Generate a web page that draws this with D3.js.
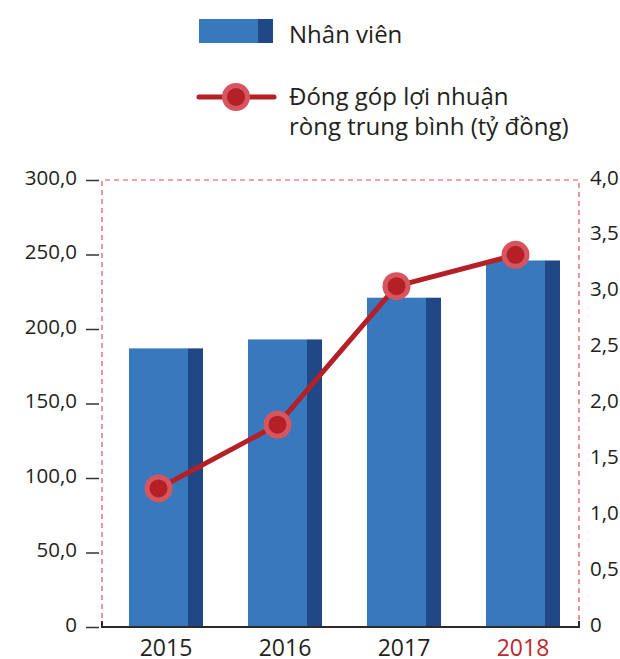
<!DOCTYPE html>
<html><head><meta charset="utf-8">
<script src="https://cdn.jsdelivr.net/npm/d3@7"></script>
<style>
html,body{margin:0;padding:0;background:#fff;}
svg{display:block;font-family:"Open Sans",sans-serif;}
</style></head>
<body><svg id="c" width="620" height="659"></svg>
<script>
const years = ["2015","2016","2017","2018"];
const employees = [187, 193, 221, 246];
const profit = [1.24, 1.81, 3.05, 3.33];
const leftTicks = [0, 50, 100, 150, 200, 250, 300];
const leftTickLabels = ["0","50,0","100,0","150,0","200,0","250,0","300,0"];
const rightTicks = [0, 0.5, 1, 1.5, 2, 2.5, 3, 3.5, 4];
const rightTickLabels = ["0","0,5","1,0","1,5","2,0","2,5","3,0","3,5","4,0"];
const legendBar = "Nhân viên";
const legendLine = ["Đóng góp lợi nhuận", "ròng trung bình (tỷ đồng)"];

const svg = d3.select("#c");
const textColor = "#231f20";
const barLight = "#3878bc", barDark = "#214886";
const lineRed = "#b51f26", ringRed = "#d6555f";

const plotL = 102, plotR = 579, plotT = 180, plotB = 627;
const yL = d3.scaleLinear().domain([0,300]).range([plotB, plotT]);
const yR = d3.scaleLinear().domain([0,4]).range([plotB, plotT]);
const p = 1 - 74/119;
const x = d3.scaleBand().domain(years).range([106.5, 582.5]).paddingInner(p).paddingOuter(p/2);
const darkW = 15;

// dashed frame
svg.append("path")
  .attr("d", `M${plotL},${plotB} V${plotT} H${plotR} V${plotB}`)
  .attr("fill","none").attr("stroke","#dc505a").attr("stroke-width",1.2)
  .attr("stroke-dasharray","5,4");

// bars
const g = svg.append("g");
const bars = g.selectAll("g.bar").data(years).join("g").attr("class","bar");
bars.append("rect")
  .attr("x", d => x(d)).attr("y", (d,i) => yL(employees[i]))
  .attr("width", x.bandwidth() - darkW).attr("height", (d,i) => plotB - yL(employees[i]))
  .attr("fill", barLight);
bars.append("rect")
  .attr("x", d => x(d) + x.bandwidth() - darkW).attr("y", (d,i) => yL(employees[i]))
  .attr("width", darkW).attr("height", (d,i) => plotB - yL(employees[i]))
  .attr("fill", barDark);

// baseline
svg.append("path")
  .attr("d", `M${plotL},${plotB-6} V${plotB} H${plotR} V${plotB-6}`)
  .attr("fill","none").attr("stroke","#2b2b2b").attr("stroke-width",2);

// left axis
const axL = svg.append("g").attr("transform", `translate(99,0)`)
  .call(d3.axisLeft(yL).tickValues(leftTicks).tickSize(13).tickPadding(9)
    .tickFormat((d,i) => leftTickLabels[i]));
axL.select(".domain").remove();
axL.selectAll(".tick line").attr("stroke","#333").attr("stroke-width",1.5);
axL.selectAll(".tick text").attr("fill",textColor).attr("font-size","20.5px")
  .attr("font-family","'Open Sans',sans-serif").attr("dy","0.2em");

// right axis
const axR = svg.append("g").attr("transform", `translate(${plotR},0)`)
  .call(d3.axisRight(yR).tickValues(rightTicks).tickSize(0).tickPadding(11)
    .tickFormat((d,i) => rightTickLabels[i]));
axR.select(".domain").remove();
axR.selectAll(".tick text").attr("fill",textColor).attr("font-size","20.5px")
  .attr("font-family","'Open Sans',sans-serif").attr("dy","0.2em");

// x axis
const axX = svg.append("g").attr("transform", `translate(0,${plotB})`)
  .call(d3.axisBottom(x).tickSize(0).tickPadding(0));
axX.select(".domain").remove();
axX.selectAll(".tick text").attr("font-size","23px").attr("font-family","'Open Sans',sans-serif")
  .attr("y", 29).attr("dy", 0)
  .attr("fill", d => d === "2018" ? "#c0272d" : textColor);

// line
const px = d => x(d) + (x.bandwidth() - darkW)/2;
const line = d3.line().x((d,i) => px(years[i])).y(d => yR(d));
svg.append("path").datum(profit).attr("d", line)
  .attr("fill","none").attr("stroke", lineRed).attr("stroke-width",5).attr("stroke-linejoin","round");
const pts = svg.selectAll("g.pt").data(profit).join("g").attr("class","pt")
  .attr("transform", (d,i) => `translate(${px(years[i])},${yR(d)})`);
pts.append("circle").attr("r",14).attr("fill",ringRed);
pts.append("circle").attr("r",9).attr("fill",lineRed);

// legend
const lg = svg.append("g");
lg.append("rect").attr("x",199).attr("y",19).attr("width",59).attr("height",24).attr("fill",barLight);
lg.append("rect").attr("x",258).attr("y",19).attr("width",15).attr("height",24).attr("fill",barDark);
lg.append("text").attr("x",289).attr("y",43).attr("font-size","24px").attr("fill",textColor).text(legendBar);
lg.append("line").attr("x1",199).attr("x2",274).attr("y1",97).attr("y2",97)
  .attr("stroke",lineRed).attr("stroke-width",5).attr("stroke-linecap","round");
lg.append("circle").attr("cx",236).attr("cy",97).attr("r",14).attr("fill",ringRed);
lg.append("circle").attr("cx",236).attr("cy",97).attr("r",9).attr("fill",lineRed);
lg.selectAll("text.l2").data(legendLine).join("text").attr("class","l2")
  .attr("x",289).attr("y",(d,i) => 105 + i*30).attr("font-size","24px").attr("fill",textColor).text(d => d);
</script></body></html>
